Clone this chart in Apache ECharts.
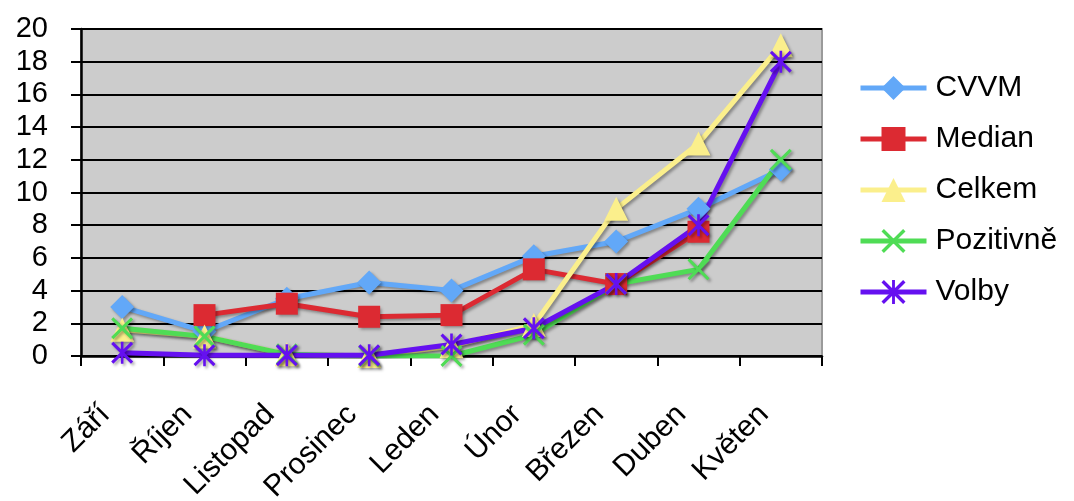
<!DOCTYPE html>
<html>
<head>
<meta charset="utf-8">
<script src="https://cdn.jsdelivr.net/npm/echarts@6/dist/echarts.min.js"></script>
<style>
  html, body { margin: 0; padding: 0; background: #ffffff; }
  #chart { width: 1074px; height: 501px; }
</style>
</head>
<body>
<div id="chart"></div>
<script>
// Months (September to May)
const months = ['Září', 'Říjen', 'Listopad', 'Prosinec', 'Leden', 'Únor', 'Březen', 'Duben', 'Květen'];

// Series values per month
const cvvm      = [3.0, 1.5, 3.5, 4.5, 4.0, 6.1, 7.0, 9.0, 11.4];
const median    = [null, 2.5, 3.2, 2.4, 2.5, 5.3, 4.4, 7.6, null];
const celkem    = [1.6, 1.2, 0.1, 0.0, 0.6, 1.9, 9.0, 13.0, 19.0];
const pozitivne = [1.7, 1.2, 0.1, 0.0, 0.0, 1.3, 4.4, 5.3, 12.0];
const volby     = [0.2, 0.05, 0.05, 0.05, 0.7, 1.7, 4.4, 8.0, 18.0];

// Y axis ticks
const yMin = 0, yMax = 20, yStep = 2;

const FONT = '"Liberation Sans", Arial, sans-serif';

// Marker shapes drawn as filled outlines
const crossPath = 'path://M0,1L1,0L5,4L9,0L10,1L6,5L10,9L9,10L5,6L1,10L0,9L4,5Z';
const starPath = 'path://M0,1L1,0L5,4L9,0L10,1L6,5L10,9L9,10L5,6L1,10L0,9L4,5Z M4.4,0L5.6,0L5.6,10L4.4,10Z';

const shadow = { shadowColor: 'rgba(0,0,0,0.35)', shadowBlur: 3, shadowOffsetX: 2, shadowOffsetY: 2 };

function makeSeries(name, data, color, symbol, size) {
  return {
    name: name,
    type: 'line',
    data: data,
    symbol: symbol,
    symbolSize: size,
    connectNulls: false,
    lineStyle: Object.assign({ color: color, width: 5 }, shadow),
    itemStyle: Object.assign({ color: color }, shadow),
    emphasis: { disabled: true },
    animation: false
  };
}

const chart = echarts.init(document.getElementById('chart'), null, { renderer: 'canvas' });

chart.setOption({
  animation: false,
  grid: {
    left: 81, right: 252, top: 29, bottom: 145,
    containLabel: false,
    outerBoundsMode: 'none',
    show: true,
    backgroundColor: '#cccccc',
    borderColor: '#9a9a9a',
    borderWidth: 2
  },
  legend: {
    orient: 'vertical',
    left: 853,
    top: 68,
    itemWidth: 66,
    itemHeight: 30,
    itemGap: 21,
    lineStyle: { width: 5, shadowBlur: 0, shadowOffsetX: 0, shadowOffsetY: 0 },
    itemStyle: { shadowBlur: 0, shadowOffsetX: 0, shadowOffsetY: 0 },
    textStyle: { fontFamily: FONT, fontSize: 30, lineHeight: 30, color: '#000', padding: [0, 0, 0, 4] },
    data: ['CVVM', 'Median', 'Celkem', 'Pozitivně', 'Volby']
  },
  xAxis: {
    type: 'category',
    data: months,
    boundaryGap: true,
    axisLine: { show: true, lineStyle: { color: '#000', width: 2.5 } },
    axisTick: { show: true, alignWithLabel: false, interval: 0, length: 10, lineStyle: { color: '#000', width: 2 } },
    axisLabel: {
      interval: 0, rotate: 45, margin: 37,
      padding: [0, 24, 0, 0],
      fontFamily: FONT, fontSize: 30, color: '#000'
    },
    splitLine: { show: false }
  },
  yAxis: {
    type: 'value',
    min: yMin, max: yMax, interval: yStep,
    axisLine: { show: true, lineStyle: { color: '#000', width: 2.5 } },
    axisTick: { show: true, length: 10, lineStyle: { color: '#000', width: 2 } },
    axisLabel: { margin: 33, fontFamily: FONT, fontSize: 29, color: '#000' },
    splitLine: { show: true, lineStyle: { color: '#000', width: 2 } }
  },
  series: [
    makeSeries('CVVM', cvvm, '#62a8f8', 'diamond', 24),
    makeSeries('Median', median, '#dc2a32', 'rect', 22),
    makeSeries('Celkem', celkem, '#fbef8c', 'triangle', 24),
    makeSeries('Pozitivně', pozitivne, '#4fdc55', crossPath, 22),
    makeSeries('Volby', volby, '#6510f0', starPath, 22)
  ]
});
</script>
</body>
</html>
